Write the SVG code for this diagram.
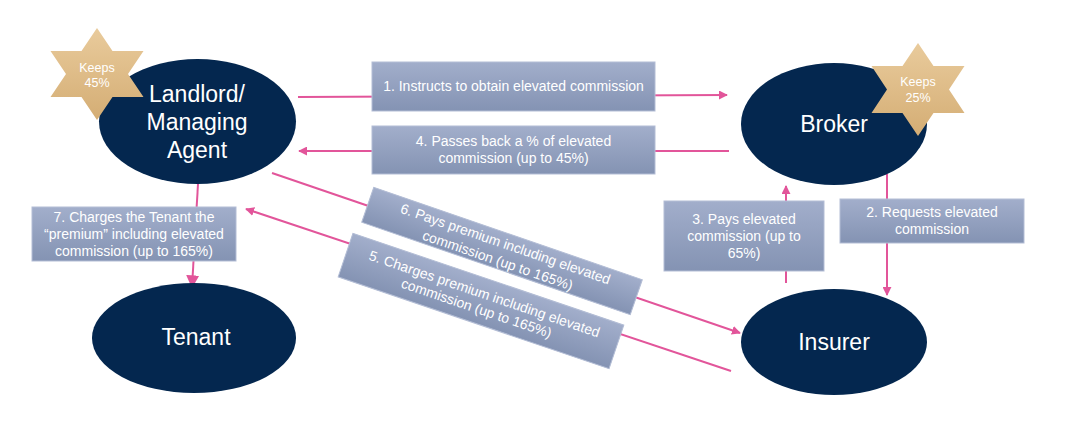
<svg xmlns="http://www.w3.org/2000/svg" width="1077" height="447" viewBox="0 0 1077 447">
<defs>
<linearGradient id="boxg" x1="0" y1="0" x2="0" y2="1">
<stop offset="0" stop-color="#a2aecb"/>
<stop offset="1" stop-color="#8493b3"/>
</linearGradient>
<linearGradient id="starg" x1="0" y1="0" x2="0" y2="1">
<stop offset="0" stop-color="#e9cb9c"/>
<stop offset="1" stop-color="#d4ad74"/>
</linearGradient>
<marker id="ah" viewBox="0 0 10 10" refX="9" refY="5" markerWidth="4.5" markerHeight="4.5" orient="auto" markerUnits="strokeWidth">
<path d="M0,0 L10,5 L0,10 z" fill="#e2559a"/>
</marker>
<marker id="ahL" viewBox="0 0 10 10" refX="9" refY="5" markerWidth="6.5" markerHeight="7" orient="auto" markerUnits="strokeWidth">
<path d="M0,0 L10,5 L0,10 z" fill="#e2559a"/>
</marker>
</defs>
<style>
.node{fill:#04274f;}
.ntxt{font-family:"Liberation Sans",Arial,sans-serif;font-size:23px;fill:#ffffff;text-anchor:middle;}
.star{fill:url(#starg);}
.stxt{font-family:"Liberation Sans",Arial,sans-serif;font-size:12.5px;fill:#ffffff;text-anchor:middle;}
.box{fill:url(#boxg);stroke:#b3bdd5;stroke-width:1;}
.btxt{font-family:"Liberation Sans",Arial,sans-serif;font-size:14px;fill:#ffffff;text-anchor:middle;}
.conn{stroke:#e2559a;stroke-width:2;fill:none;}
</style>
<rect width="1077" height="447" fill="#ffffff"/>

<g id="connectors">
<path class="conn" d="M298,97 L727,95" marker-end="url(#ah)"/>
<path class="conn" d="M729,151 L299,151" marker-end="url(#ah)"/>
<path class="conn" d="M887,174 L887,295" marker-end="url(#ah)"/>
<path class="conn" d="M786,283 L786,186" marker-end="url(#ah)"/>
<path class="conn" d="M198,184 L192,287" marker-end="url(#ahL)"/>
<path class="conn" d="M272,173 L740,333" marker-end="url(#ah)"/>
<path class="conn" d="M731,371 L246,209" marker-end="url(#ah)"/>
</g>

<g id="landlord">
<ellipse class="node" cx="197.5" cy="121.5" rx="98.5" ry="62.5"/>
<text class="ntxt" x="197" y="102">Landlord/</text>
<text class="ntxt" x="197" y="130">Managing</text>
<text class="ntxt" x="197" y="158">Agent</text>
</g>

<g id="broker">
<ellipse class="node" cx="834" cy="124" rx="93" ry="61"/>
<text class="ntxt" x="834" y="132">Broker</text>
</g>

<g id="tenant">
<ellipse class="node" cx="194" cy="338" rx="102" ry="55"/>
<text class="ntxt" x="196" y="345">Tenant</text>
</g>

<g id="insurer">
<ellipse class="node" cx="834" cy="342" rx="93" ry="53"/>
<text class="ntxt" x="834" y="350">Insurer</text>
</g>

<g id="star-landlord">
<polygon class="star" points="97,28 112.5,51 143.5,51 128,74 143.5,97 112.5,97 97,120 81.5,97 50.5,97 66,74 50.5,51 81.5,51"/>
<text class="stxt" x="97" y="72">Keeps</text>
<text class="stxt" x="97" y="87">45%</text>
</g>

<g id="star-broker">
<polygon class="star" points="918,43 933.5,66 964.5,66 949,89.5 964.5,113 933.5,113 918,136 902.5,113 871.5,113 887,89.5 871.5,66 902.5,66"/>
<text class="stxt" x="918" y="86">Keeps</text>
<text class="stxt" x="918" y="102">25%</text>
</g>

<g id="label1">
<rect class="box" x="372" y="62" width="283" height="49"/>
<text class="btxt" x="513.5" y="91">1. Instructs to obtain elevated commission</text>
</g>

<g id="label4">
<rect class="box" x="372" y="126" width="283" height="48"/>
<text class="btxt" x="513.5" y="146">4. Passes back a % of elevated</text>
<text class="btxt" x="513.5" y="163">commission (up to 45%)</text>
</g>

<g id="label3">
<rect class="box" x="664" y="201" width="160" height="70"/>
<text class="btxt" x="744" y="224">3. Pays elevated</text>
<text class="btxt" x="744" y="241">commission (up to</text>
<text class="btxt" x="744" y="258">65%)</text>
</g>

<g id="label2">
<rect class="box" x="840" y="199" width="184" height="44"/>
<text class="btxt" x="932" y="217">2. Requests elevated</text>
<text class="btxt" x="932" y="234">commission</text>
</g>

<g id="label7">
<rect class="box" x="32" y="207" width="204" height="54"/>
<text class="btxt" x="134" y="222">7. Charges the Tenant the</text>
<text class="btxt" x="134" y="239">“premium” including elevated</text>
<text class="btxt" x="134" y="256">commission (up to 165%)</text>
</g>

<g id="label6" transform="translate(502,251) rotate(19)">
<rect class="box" x="-142" y="-18.5" width="284" height="37"/>
<text class="btxt" x="1" y="-3">6. Pays premium including elevated</text>
<text class="btxt" x="-1" y="15">commission (up to 165%)</text>
</g>

<g id="label5" transform="translate(481,301) rotate(18.7)">
<rect class="box" x="-143" y="-23" width="286" height="46"/>
<text class="btxt" x="1" y="-3">5. Charges premium including elevated</text>
<text class="btxt" x="-2" y="13">commission (up to 165%)</text>
</g>
</svg>
